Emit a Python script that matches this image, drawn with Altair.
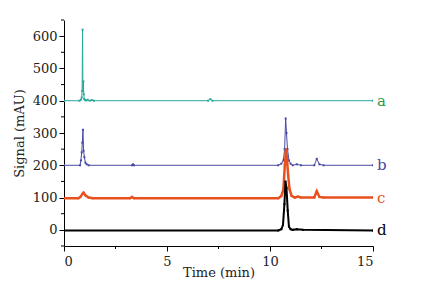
import altair as alt
import pandas as pd

# ---- data ----
t_a = [0, 0.75, 0.82, 0.86, 0.88, 0.90, 0.92, 0.94, 0.96, 0.98, 1.02, 1.08, 1.15, 1.25, 1.35, 1.45, 7.0, 7.1, 7.2, 15]
v_a = [400, 400, 403, 410, 430, 620, 430, 460, 420, 405, 402, 401, 403, 400, 402, 400, 400, 405, 400, 400]

t_b = [0, 0.78, 0.82, 0.86, 0.89, 0.92, 0.95, 0.99, 1.04, 1.1, 1.2, 3.3, 3.35, 3.4, 10.4, 10.55, 10.65, 10.71, 10.76,
       10.80, 10.85, 10.92, 11.0, 11.1, 11.3, 11.5, 12.15, 12.27, 12.4, 12.6, 15]
v_b = [200, 200, 215, 240, 270, 310, 245, 225, 208, 203, 200, 200, 203, 200, 200, 205, 215, 250, 345,
       300, 250, 215, 205, 200, 203, 200, 200, 220, 203, 200, 200]

t_c = [0, 0.7, 0.8, 0.9, 0.95, 1.05, 1.2, 1.4, 3.2, 3.3, 3.4, 10.4, 10.55, 10.65, 10.72, 10.78, 10.83, 10.88,
       10.95, 11.05, 11.2, 11.35, 11.5, 12.15, 12.27, 12.4, 12.6, 15]
v_c = [98, 98, 102, 112, 115, 106, 100, 98, 98, 102, 98, 98, 105, 125, 200, 250, 215, 170,
       125, 105, 100, 103, 100, 100, 120, 102, 100, 100]

t_d = [0, 10.4, 10.55, 10.63, 10.70, 10.75, 10.80, 10.86, 10.92, 11.0, 11.1, 11.3, 11.6, 15]
v_d = [-2, -2, 2, 15, 80, 150, 130, 60, 10, 2, 0, 2, 0, -2]

series_names = ["a", "b", "c", "d"]
series_base = [400, 200, 100, 0]
line_colors = ["#2aa89c", "#4a4aa6", "#e8501e", "#000000"]
label_colors = ["#2e9a4e", "#4a4aa6", "#e8501e", "#000000"]
line_widths = [1, 1, 2.5, 2]

major_y = [0, 100, 200, 300, 400, 500, 600]
minor_y = [-50, 50, 150, 250, 350, 450, 550, 650]
major_x = [0, 5, 10, 15]
minor_x = [2.5, 7.5, 12.5]

rows = []
for name, ts, vs in zip(series_names, [t_a, t_b, t_c, t_d], [v_a, v_b, v_c, v_d]):
    for i, (t, v) in enumerate(zip(ts, vs)):
        rows.append({"s": name, "t": t, "v": v, "o": i})
df = pd.DataFrame(rows)

FONT = "DejaVu Serif"
xs = alt.Scale(domain=[0, 15], nice=False)
ys = alt.Scale(domain=[-50, 650], nice=False)

x_axis = alt.Axis(values=major_x, title="Time (min)", grid=False, tickSize=5,
                  labelOverlap=False, labelPadding=4, titlePadding=-2,
                  labelFont=FONT, titleFont=FONT, labelFontSize=13, titleFontSize=13,
                  titleFontWeight="normal", labelColor="#222", titleColor="#222",
                  domainColor="#000", tickColor="#000")
y_axis = alt.Axis(values=major_y, title="Signal (mAU)", grid=False, tickSize=5,
                  labelOverlap=False, labelPadding=2, titlePadding=6,
                  labelFont=FONT, titleFont=FONT, labelFontSize=13, titleFontSize=13,
                  titleFontWeight="normal", labelColor="#222", titleColor="#222",
                  domainColor="#000", tickColor="#000")

X = alt.X("t:Q", scale=xs, axis=x_axis)
Y = alt.Y("v:Q", scale=ys, axis=y_axis)

layers = []
for name, col, w in zip(series_names, line_colors, line_widths):
    sub = df[df.s == name]
    layers.append(alt.Chart(sub).mark_line(color=col, strokeWidth=w, clip=True).encode(x=X, y=Y, order="o:Q"))
    layers.append(alt.Chart(sub).mark_point(shape="square", filled=True, size=4, color=col, opacity=1,
                                            clip=True).encode(x=X, y=Y))

# minor ticks
minor_y_df = pd.DataFrame({"v": minor_y})
minor_x_df = pd.DataFrame({"t": minor_x})
layers.append(alt.Chart(minor_y_df).mark_rule(color="#000", strokeWidth=1).encode(
    y=Y, x=alt.value(-3), x2=alt.value(0)))
layers.append(alt.Chart(minor_x_df).mark_rule(color="#000", strokeWidth=1).encode(
    x=X, y=alt.value(226), y2=alt.value(229)))

lab_df = pd.DataFrame({"s": series_names, "v": series_base, "t": [15] * 4, "c": label_colors})
layers.append(alt.Chart(lab_df).mark_text(font=FONT, fontSize=15, align="left", dx=4, baseline="middle").encode(
    x=X, y=Y, text="s:N", color=alt.Color("c:N", scale=None)))

chart = alt.layer(*layers).properties(
    width=309, height=226,
    autosize=alt.AutoSizeParams(type="none"),
    padding={"left": 64, "top": 20, "right": 58, "bottom": 35},
    background="white",
).configure_view(stroke=None)

chart.save("out.html", embed_options={"renderer": "svg", "actions": False})
